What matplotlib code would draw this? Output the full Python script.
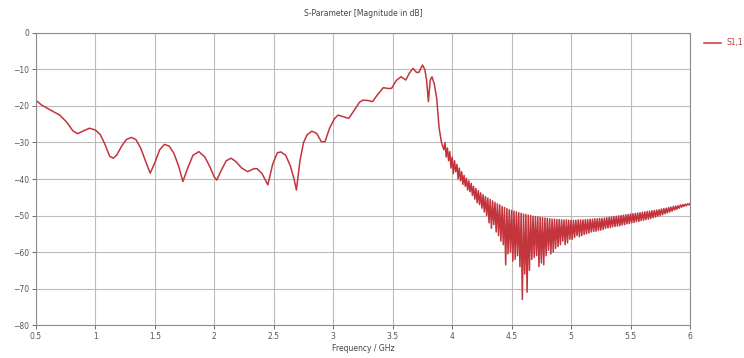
import numpy as np
import matplotlib
matplotlib.use("Agg")
import matplotlib.pyplot as plt

# smooth part of S1,1 (GHz, dB)
freq_smooth = [0.50, 0.55, 0.62, 0.70, 0.76, 0.81, 0.85, 0.90, 0.95, 1.00,
               1.04, 1.08, 1.12, 1.15, 1.18, 1.22, 1.26, 1.30, 1.34, 1.38,
               1.42, 1.46, 1.50, 1.54, 1.58, 1.62, 1.66, 1.70, 1.735, 1.77,
               1.82, 1.87, 1.92, 1.96, 2.00, 2.02, 2.06, 2.10, 2.14, 2.18,
               2.23, 2.28, 2.33, 2.36, 2.40, 2.45, 2.49, 2.53, 2.56, 2.60,
               2.64, 2.67, 2.69, 2.72, 2.75, 2.78, 2.82, 2.86, 2.90, 2.93,
               2.97, 3.01, 3.04, 3.09, 3.13, 3.18, 3.22, 3.25, 3.29, 3.33,
               3.37, 3.42, 3.46, 3.49, 3.53, 3.57, 3.61, 3.64, 3.67, 3.70,
               3.72, 3.75, 3.77, 3.785, 3.80, 3.815, 3.83, 3.85, 3.87, 3.89,
               3.91]
db_smooth = [-18.5, -19.8, -21.1, -22.5, -24.5, -26.8, -27.6, -26.8, -26.1, -26.6,
             -27.8, -30.5, -33.8, -34.3, -33.4, -31.0, -29.2, -28.6, -29.2, -31.5,
             -35.0, -38.4, -35.5, -32.0, -30.5, -31.0, -33.0, -36.5, -40.7, -37.5,
             -33.5, -32.5, -34.0, -36.5, -39.5, -40.3, -37.5, -35.0, -34.3, -35.2,
             -37.0, -38.0, -37.2, -37.2, -38.5, -41.6, -36.0, -32.8, -32.6, -33.5,
             -36.5, -40.0, -43.0, -35.0, -30.0, -27.9, -26.9, -27.5, -29.8, -29.8,
             -26.0, -23.5, -22.5, -23.0, -23.4, -21.0, -19.0, -18.4, -18.5, -18.8,
             -17.0, -15.0, -15.2, -15.2, -13.0, -12.0, -12.9, -11.0, -9.7, -10.8,
             -10.8, -8.8, -10.0, -13.0, -18.8, -13.0, -12.0, -14.0, -18.0, -26.0,
             -30.0]

# ripple region, spike minima
freq_trough = [3.93, 3.95, 3.97, 3.99, 4.01, 4.03, 4.05, 4.07, 4.09, 4.11,
               4.13, 4.15, 4.17, 4.19, 4.21, 4.23, 4.25, 4.27, 4.29, 4.31,
               4.33, 4.35, 4.37, 4.39, 4.41, 4.43, 4.45, 4.47, 4.49, 4.51,
               4.53, 4.55, 4.57, 4.59, 4.61, 4.63, 4.65, 4.67, 4.69, 4.71,
               4.73, 4.75, 4.77, 4.79, 4.81, 4.83, 4.85, 4.87, 4.89, 4.91,
               4.93, 4.95, 4.97, 4.99, 5.01, 5.03, 5.05, 5.07, 5.09, 5.11,
               5.13, 5.15, 5.17, 5.19, 5.21, 5.23, 5.25, 5.27, 5.29, 5.31,
               5.33, 5.35, 5.37, 5.39, 5.41, 5.43, 5.45, 5.47, 5.49, 5.51,
               5.53, 5.55, 5.57, 5.59, 5.61, 5.63, 5.65, 5.67, 5.69, 5.71,
               5.73, 5.75, 5.77, 5.79, 5.81, 5.83, 5.85, 5.87, 5.89, 5.91,
               5.93, 5.95, 5.97, 5.99]
db_trough = [-32.0, -34.0, -35.0, -37.0, -38.5, -38.0, -40.0, -40.5, -41.5, -42.0,
             -43.0, -43.5, -44.5, -45.5, -46.5, -47.0, -48.0, -49.0, -50.0, -52.0,
             -53.5, -52.5, -54.5, -55.5, -57.0, -58.0, -63.5, -60.5, -60.0, -62.5,
             -62.0, -61.0, -64.0, -73.0, -66.0, -71.0, -65.0, -62.0, -61.5, -61.0,
             -64.0, -63.0, -63.5, -61.0, -59.5, -60.5, -60.0, -59.0, -58.5, -58.0,
             -57.0, -58.0, -57.5, -56.5, -56.5, -56.0, -55.5, -55.8, -55.5, -55.2,
             -55.0, -54.8, -54.5, -54.4, -54.3, -54.1, -54.0, -53.8, -53.5, -53.4,
             -53.3, -53.1, -53.0, -52.9, -52.8, -52.6, -52.5, -52.3, -52.2, -52.0,
             -51.9, -51.7, -51.6, -51.4, -51.3, -51.1, -51.0, -50.8, -50.6, -50.4,
             -50.2, -50.0, -49.8, -49.5, -49.3, -49.0, -48.8, -48.5, -48.3, -48.0,
             -47.7, -47.5, -47.3, -47.1]

# ripple region, spike maxima
freq_peak = [3.94, 3.96, 3.98, 4.00, 4.02, 4.04, 4.06, 4.08, 4.10, 4.12,
             4.14, 4.16, 4.18, 4.20, 4.22, 4.24, 4.26, 4.28, 4.30, 4.32,
             4.34, 4.36, 4.38, 4.40, 4.42, 4.44, 4.46, 4.48, 4.50, 4.52,
             4.54, 4.56, 4.58, 4.60, 4.62, 4.64, 4.66, 4.68, 4.70, 4.72,
             4.74, 4.76, 4.78, 4.80, 4.82, 4.84, 4.86, 4.88, 4.90, 4.92,
             4.94, 4.96, 4.98, 5.00, 5.02, 5.04, 5.06, 5.08, 5.10, 5.12,
             5.14, 5.16, 5.18, 5.20, 5.22, 5.24, 5.26, 5.28, 5.30, 5.32,
             5.34, 5.36, 5.38, 5.40, 5.42, 5.44, 5.46, 5.48, 5.50, 5.52,
             5.54, 5.56, 5.58, 5.60, 5.62, 5.64, 5.66, 5.68, 5.70, 5.72,
             5.74, 5.76, 5.78, 5.80, 5.82, 5.84, 5.86, 5.88, 5.90, 5.92,
             5.94, 5.96, 5.98, 6.00]
db_peak = [-30.0, -31.5, -32.5, -34.0, -35.0, -36.0, -37.0, -38.0, -39.0, -39.8,
           -40.5, -41.2, -42.0, -42.6, -43.2, -43.8, -44.3, -44.8, -45.2, -45.6,
           -46.0, -46.4, -46.8, -47.1, -47.5, -47.8, -48.1, -48.4, -48.6, -48.8,
           -49.0, -49.2, -49.4, -49.6, -49.7, -49.9, -50.0, -50.2, -50.3, -50.4,
           -50.5, -50.6, -50.7, -50.8, -50.9, -51.0, -51.0, -51.1, -51.1, -51.2,
           -51.2, -51.2, -51.3, -51.3, -51.3, -51.3, -51.2, -51.2, -51.2, -51.1,
           -51.1, -51.0, -51.0, -50.9, -50.9, -50.8, -50.8, -50.7, -50.6, -50.5,
           -50.4, -50.3, -50.2, -50.1, -50.0, -49.9, -49.8, -49.7, -49.6, -49.5,
           -49.4, -49.3, -49.2, -49.1, -49.0, -48.9, -48.8, -48.7, -48.6, -48.5,
           -48.4, -48.2, -48.1, -48.0, -47.8, -47.7, -47.5, -47.4, -47.3, -47.1,
           -47.0, -46.9, -46.8, -46.7]

x_ticks = [0.5, 1, 1.5, 2, 2.5, 3, 3.5, 4, 4.5, 5, 5.5, 6]
x_labels = ["0.5", "1", "1.5", "2", "2.5", "3", "3.5", "4", "4.5", "5", "5.5", "6"]
y_ticks = [0, -10, -20, -30, -40, -50, -60, -70, -80]

# one trace, sorted by frequency
f = np.array(freq_smooth + freq_trough + freq_peak)
s = np.array(db_smooth + db_trough + db_peak)
order = np.argsort(f)
f, s = f[order], s[order]

fig = plt.figure(figsize=(7.44, 3.58), dpi=100)
ax = fig.add_axes([0.0484, 0.092, 0.879, 0.816])

ax.plot(f, s, color="#c3343c", lw=1.1, label="S1,1")

ax.set_xlim(0.5, 6)
ax.set_ylim(-80, 0)
ax.set_xticks(x_ticks)
ax.set_xticklabels(x_labels)
ax.set_yticks(y_ticks)
ax.grid(True, color="#bcbcbc", lw=0.8)
ax.set_axisbelow(True)
for sp in ax.spines.values():
    sp.set_color("#8c8c8c")
    sp.set_linewidth(0.8)
ax.tick_params(labelsize=5.5, colors="#555555", length=3, width=0.6, pad=2)

ax.set_title("S-Parameter [Magnitude in dB]", fontsize=5.5, color="#444444", pad=12)
ax.set_xlabel("Frequency / GHz", fontsize=5.5, color="#444444", labelpad=2)

ax.legend(loc="upper left", bbox_to_anchor=(1.013, 1.0), frameon=False,
          fontsize=5.5, handlelength=2.2, labelcolor="#c3343c", borderaxespad=0.3)

fig.savefig("out.png", dpi=100)
